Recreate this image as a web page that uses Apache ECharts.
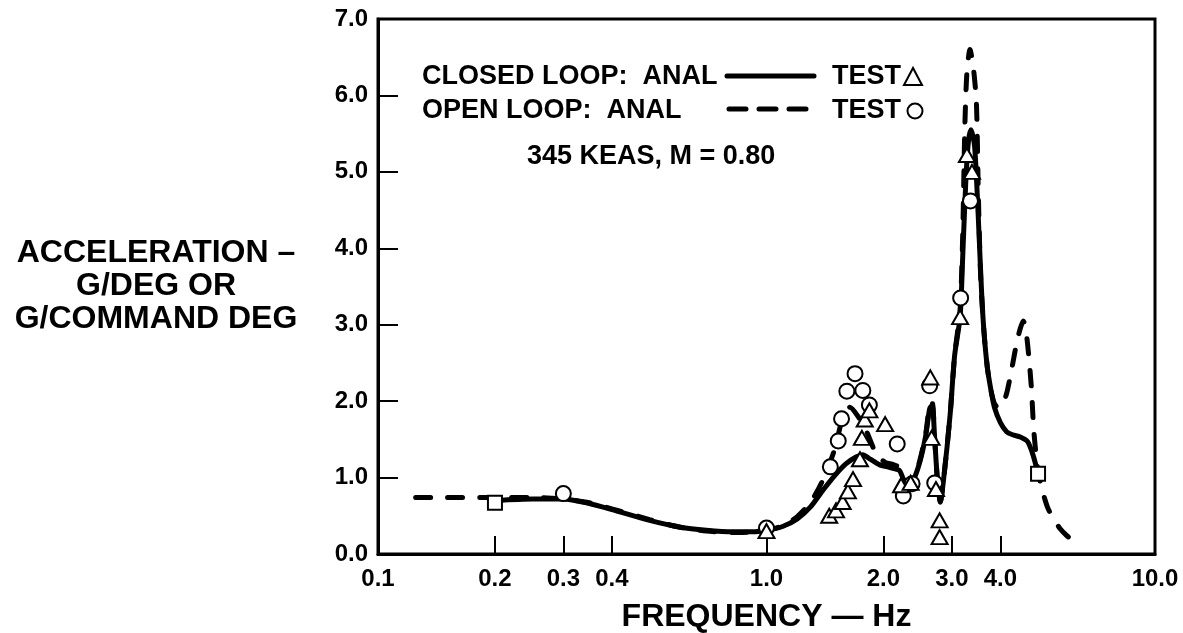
<!DOCTYPE html>
<html>
<head>
<meta charset="utf-8">
<script src="https://cdn.jsdelivr.net/npm/echarts@6/dist/echarts.min.js"></script>
<style>
html,body{margin:0;padding:0;background:#fff;}
#chart{width:1183px;height:633px;}
</style>
</head>
<body>
<div id="chart"></div>
<script>
// ---- data (frequency Hz, acceleration g/deg) ----
const closedLoopAnal = [
  [0.2,0.70],[0.25,0.72],[0.3,0.72],[0.35,0.66],[0.4,0.58],[0.5,0.44],[0.6,0.35],[0.7,0.31],
  [0.82,0.29],[0.92,0.29],[1.0,0.31],[1.1,0.36],[1.2,0.46],[1.3,0.62],[1.4,0.84],[1.5,1.03],
  [1.6,1.18],[1.7,1.27],[1.77,1.30],[1.85,1.24],[1.95,1.17],[2.08,1.13],[2.2,1.09],[2.3,0.88],
  [2.38,0.95],[2.48,1.2],[2.57,1.55],[2.63,1.9],[2.67,1.95],[2.71,1.5],[2.76,0.9],[2.8,0.68],
  [2.86,1.0],[2.97,1.83],[3.05,2.6],[3.15,3.1],[3.2,3.9],[3.26,4.9],[3.31,5.4],[3.36,5.55],
  [3.43,5.35],[3.48,4.8],[3.53,4.1],[3.58,3.4],[3.63,2.9],[3.7,2.45],[3.78,2.15],[3.86,1.92],
  [4.0,1.72],[4.15,1.6],[4.3,1.56],[4.5,1.53],[4.7,1.47],[4.85,1.3],[5.0,1.05]
];
const openLoopAnal = [
  [0.125,0.74],[0.15,0.74],[0.2,0.74],[0.25,0.74],[0.3,0.72],[0.35,0.67],[0.4,0.59],[0.5,0.45],
  [0.6,0.35],[0.7,0.30],[0.82,0.28],[0.92,0.29],[1.0,0.31],[1.1,0.37],[1.2,0.49],[1.3,0.68],
  [1.4,0.98],[1.5,1.38],[1.57,1.78],[1.64,1.92],[1.72,1.80],[1.81,1.60],[1.92,1.30],[2.02,1.20],
  [2.12,1.17],[2.22,1.12],[2.3,0.9],[2.38,0.96],[2.48,1.22],[2.57,1.58],[2.63,1.95],[2.67,1.98],
  [2.71,1.5],[2.76,0.9],[2.8,0.68],[2.86,1.0],[2.97,1.83],[3.05,2.6],[3.15,3.2],[3.2,4.2],
  [3.24,5.6],[3.28,6.3],[3.34,6.6],[3.41,6.35],[3.47,5.9],[3.51,4.7],[3.56,3.6],[3.63,2.9],
  [3.7,2.45],[3.78,2.15],[3.86,1.97],[3.95,1.92],[4.03,1.93],[4.15,2.1],[4.27,2.4],[4.4,2.75],
  [4.5,2.95],[4.58,3.05],[4.66,2.9],[4.74,2.55],[4.81,2.15],[4.87,1.65],[4.94,1.3],[5.01,1.05],
  [5.15,0.8],[5.3,0.6],[5.5,0.45],[5.7,0.33],[5.9,0.25],[6.1,0.19]
];
const closedLoopTest = [
  [1.0,0.30],[1.45,0.50],[1.51,0.57],[1.57,0.68],[1.62,0.82],[1.67,0.98],[1.74,1.24],[1.76,1.52],
  [1.79,1.76],[1.84,1.88],[2.02,1.70],[2.22,0.90],[2.35,0.93],[2.64,2.31],[2.66,1.52],[2.73,0.85],
  [2.79,0.44],[2.79,0.22],[3.15,3.1],[3.28,5.22],[3.38,5.0]
];
const openLoopTest = [
  [0.30,0.79],[1.0,0.34],[1.46,1.14],[1.53,1.48],[1.56,1.77],[1.61,2.13],[1.69,2.36],[1.77,2.14],
  [1.84,1.95],[2.17,1.44],[2.25,0.76],[2.37,0.92],[2.63,2.2],[2.71,0.93],[3.16,3.35],[3.35,4.62]
];
const commonTest = [[0.2,0.67],[5.0,1.05]];
const xTickValues = [0.2,0.3,0.4,1,2,3,4];
const xLabelValues = [0.1,0.2,0.3,0.4,1,2,3,4,10];

const FONT = '"Liberation Sans", Arial, Helvetica, sans-serif';
const chart = echarts.init(document.getElementById('chart'), null, {renderer:'canvas'});

const markerStyle = {color:'#fff', borderColor:'#000', borderWidth:2, opacity:1};

chart.setOption({
  animation:false,
  backgroundColor:'#fff',
  grid:{left:378, right:28, top:19, bottom:79, show:true, borderColor:'#000', borderWidth:3,
        containLabel:false, outerBoundsMode:'none'},
  xAxis:{
    type:'log', logBase:10, min:0.1, max:10,
    name:'FREQUENCY — Hz', nameLocation:'middle', nameGap:47,
    nameTextStyle:{fontFamily:FONT, fontWeight:'bold', fontSize:32, color:'#000'},
    axisLine:{show:true, lineStyle:{color:'#000', width:3}},
    axisTick:{show:true, inside:true, length:18, lineStyle:{color:'#000', width:2}, customValues:xTickValues},
    minorTick:{show:false},
    axisLabel:{customValues:xLabelValues, formatter:(v)=>Number(v).toFixed(1), margin:13,
               fontFamily:FONT, fontWeight:'bold', fontSize:24, color:'#000', showMinLabel:true, showMaxLabel:true},
    splitLine:{show:false}
  },
  yAxis:{
    type:'value', min:0, max:7, interval:1,
    name:'ACCELERATION –\nG/DEG OR\nG/COMMAND DEG', nameLocation:'middle', nameRotate:0, nameGap:222,
    nameTextStyle:{fontFamily:FONT, fontWeight:'bold', fontSize:32, lineHeight:33, color:'#000',
                   align:'center', verticalAlign:'middle', padding:[22,0,0,0]},
    axisLine:{show:true, lineStyle:{color:'#000', width:3}},
    axisTick:{show:true, inside:true, length:20, lineStyle:{color:'#000', width:2}},
    axisLabel:{formatter:(v)=>v.toFixed(1), margin:10, fontFamily:FONT, fontWeight:'bold', fontSize:24, color:'#000'},
    splitLine:{show:false}
  },
  series:[
    {name:'OPEN LOOP ANAL', type:'line', data:openLoopAnal, smooth:0.25, symbol:'none', z:2,
     lineStyle:{color:'#000', width:5, type:[15,17], cap:'round'}},
    {name:'CLOSED LOOP ANAL', type:'line', data:closedLoopAnal, smooth:0.25, symbol:'none', z:3,
     lineStyle:{color:'#000', width:5, type:'solid', cap:'round'}},
    {name:'CLOSED LOOP TEST', type:'scatter', data:closedLoopTest, symbol:'triangle', symbolSize:[16,14], z:5, itemStyle:markerStyle},
    {name:'OPEN LOOP TEST', type:'scatter', data:openLoopTest, symbol:'circle', symbolSize:15, z:4, itemStyle:markerStyle},
    {name:'TEST', type:'scatter', data:commonTest, symbol:'rect', symbolSize:14, z:6, itemStyle:markerStyle}
  ],
  graphic:[
    {type:'text', x:422, y:77, style:{text:'CLOSED LOOP:  ANAL', font:'bold 27px '+FONT, fill:'#000', verticalAlign:'middle'}},
    {type:'line', shape:{x1:727,y1:76,x2:814,y2:76}, style:{stroke:'#000', lineWidth:5, lineCap:'round'}},
    {type:'text', x:832, y:77, style:{text:'TEST', font:'bold 27px '+FONT, fill:'#000', verticalAlign:'middle'}},
    {type:'polygon', shape:{points:[[913,68],[904,85],[922,85]]}, style:{fill:'#fff', stroke:'#000', lineWidth:2}},
    {type:'text', x:422, y:111, style:{text:'OPEN LOOP:  ANAL', font:'bold 27px '+FONT, fill:'#000', verticalAlign:'middle'}},
    {type:'line', shape:{x1:729,y1:109,x2:812,y2:109}, style:{stroke:'#000', lineWidth:5, lineCap:'round', lineDash:[17,13]}},
    {type:'text', x:832, y:111, style:{text:'TEST', font:'bold 27px '+FONT, fill:'#000', verticalAlign:'middle'}},
    {type:'circle', shape:{cx:915, cy:111, r:7.5}, style:{fill:'#fff', stroke:'#000', lineWidth:2}},
    {type:'text', x:527, y:157, style:{text:'345 KEAS, M = 0.80', font:'bold 27px '+FONT, fill:'#000', verticalAlign:'middle'}}
  ]
});
</script>
</body>
</html>
